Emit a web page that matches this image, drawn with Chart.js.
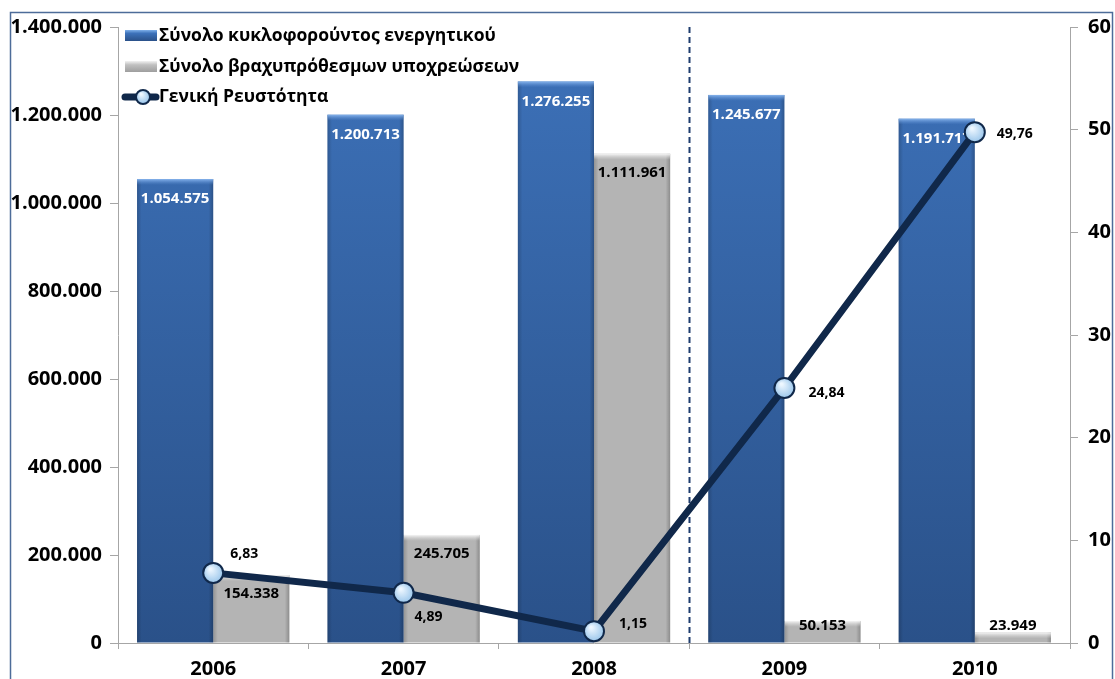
<!DOCTYPE html>
<html lang="el">
<head>
<meta charset="utf-8">
<title>Γενική Ρευστότητα 2006-2010</title>
<script src="https://cdn.jsdelivr.net/npm/chart.js@4.4.1/dist/chart.umd.min.js"></script>
<style>
  html, body { margin: 0; padding: 0; background: #fff; }
  #wrap { width: 1115px; height: 679px; position: relative; }
</style>
</head>
<body>
<div id="wrap"><canvas id="chart"></canvas></div>
<script>
// years and figures
const years = ['2006', '2007', '2008', '2009', '2010'];
const currentAssets = [1054575, 1200713, 1276255, 1245677, 1191717];
const shortTermLiabilities = [154338, 245705, 1111961, 50153, 23949];
const generalLiquidity = [6.83, 4.89, 1.15, 24.84, 49.76];

const seriesNames = [
  'Σύνολο κυκλοφορούντος ενεργητικού',
  'Σύνολο βραχυπρόθεσμων υποχρεώσεων',
  'Γενική Ρευστότητα'
];

// axis ranges
const amountMax = 1400000, amountStep = 200000;
const ratioMax = 60, ratioStep = 10;

const FONT = '"Open Sans", "DejaVu Sans", sans-serif';
const NAVY = '#10284a';

const fmtAmount = n => String(n).replace(/\B(?=(\d{3})+(?!\d))/g, '.');
const fmtRatio = n => n.toFixed(2).replace('.', ',');

function blueFill(ctx) {
  const area = ctx.chart.chartArea;
  if (!area) return '#3566aa';
  const g = ctx.chart.ctx.createLinearGradient(0, area.top, 0, area.bottom);
  g.addColorStop(0, '#3d72ba');
  g.addColorStop(1, '#2a5189');
  return g;
}

function markerFill(ctx) {
  const el = ctx.element;
  if (!el || el.x === undefined) return '#bcdcf5';
  const g = ctx.chart.ctx.createRadialGradient(el.x - 3, el.y - 4, 1, el.x, el.y, 11);
  g.addColorStop(0, '#eef7ff');
  g.addColorStop(1, '#95c3ea');
  return g;
}

// 3d-ish shading on the bars, then their value labels
const barDecor = {
  id: 'barDecor',
  afterDatasetDraw(chart, args) {
    const i = args.index;
    if (i > 1) return;
    const ctx = chart.ctx;
    const bottom = chart.chartArea.bottom;
    ctx.save();
    args.meta.data.forEach(bar => {
      const left = bar.x - bar.width / 2, top = bar.y, h = bar.base - bar.y;
      // darker side edges
      const side = ctx.createLinearGradient(left, 0, left + bar.width, 0);
      side.addColorStop(0, 'rgba(0,0,0,0.18)');
      side.addColorStop(0.06, 'rgba(0,0,0,0)');
      side.addColorStop(0.94, 'rgba(0,0,0,0)');
      side.addColorStop(1, 'rgba(0,0,0,0.22)');
      ctx.fillStyle = side;
      ctx.fillRect(left, top, bar.width, h);
      // light band on top
      const bandH = Math.min(6, h);
      const band = ctx.createLinearGradient(0, top, 0, top + bandH);
      band.addColorStop(0, i === 0 ? 'rgba(140,185,240,0.95)' : 'rgba(250,250,250,0.95)');
      band.addColorStop(1, i === 0 ? 'rgba(90,140,210,0)' : 'rgba(220,220,220,0)');
      ctx.fillStyle = band;
      ctx.fillRect(left, top, bar.width, bandH);
    });
    ctx.textAlign = 'center';
    ctx.textBaseline = 'middle';
    ctx.font = 'bold 15px ' + FONT;
    args.meta.data.forEach((bar, k) => {
      if (i === 0) {
        ctx.fillStyle = '#ffffff';
        ctx.fillText(fmtAmount(currentAssets[k]), bar.x, bar.y + 20);
      } else {
        ctx.fillStyle = '#000000';
        ctx.fillText(fmtAmount(shortTermLiabilities[k]), bar.x, Math.min(bar.y + 19, bottom - 17));
      }
    });
    ctx.restore();
  }
};

// where each liquidity label sits relative to its marker
const ratioLabelShift = [[31, -19], [25, 24], [39, -7], [42, 5], [40, 2]];

const overlay = {
  id: 'overlay',
  beforeDatasetsDraw(chart) {
    // dashed separator between 2008 and 2009
    const x = chart.scales.x;
    const sx = (x.getPixelForValue(2) + x.getPixelForValue(3)) / 2;
    const ctx = chart.ctx;
    ctx.save();
    ctx.strokeStyle = '#1f3d6e';
    ctx.lineWidth = 2;
    ctx.setLineDash([6, 4]);
    ctx.beginPath();
    ctx.moveTo(Math.round(sx) + 0.5, chart.chartArea.top);
    ctx.lineTo(Math.round(sx) + 0.5, chart.chartArea.bottom);
    ctx.stroke();
    ctx.restore();
  },
  afterDatasetsDraw(chart) {
    const ctx = chart.ctx;
    ctx.save();
    ctx.fillStyle = '#000';
    ctx.textAlign = 'center';
    ctx.textBaseline = 'middle';
    ctx.font = 'bold 14px ' + FONT;
    chart.getDatasetMeta(2).data.forEach((pt, k) => {
      const [dx, dy] = ratioLabelShift[k];
      ctx.fillText(fmtRatio(generalLiquidity[k]), pt.x + dx, pt.y + dy);
    });
    ctx.restore();
  },
  afterDraw(chart) {
    const ctx = chart.ctx;
    ctx.save();
    // legend in the upper left of the plot
    ctx.font = 'bold 17.5px ' + FONT;
    ctx.textBaseline = 'middle';
    ctx.textAlign = 'left';
    const lx = 125, ty = [36, 67, 97];
    let g = ctx.createLinearGradient(0, ty[0] - 6, 0, ty[0] + 5);
    g.addColorStop(0, '#7fb0ea'); g.addColorStop(0.3, '#3d72ba'); g.addColorStop(1, '#2a5189');
    ctx.fillStyle = g;
    ctx.fillRect(lx, ty[0] - 6, 32, 11);
    g = ctx.createLinearGradient(0, ty[1] - 6, 0, ty[1] + 5);
    g.addColorStop(0, '#f2f2f2'); g.addColorStop(0.35, '#c0c0c0'); g.addColorStop(1, '#9e9e9e');
    ctx.fillStyle = g;
    ctx.fillRect(lx, ty[1] - 6, 32, 11);
    ctx.strokeStyle = NAVY;
    ctx.lineWidth = 7;
    ctx.lineCap = 'round';
    ctx.beginPath();
    ctx.moveTo(lx, ty[2]); ctx.lineTo(lx + 31, ty[2]);
    ctx.stroke();
    g = ctx.createRadialGradient(lx + 16, ty[2] - 3, 1, lx + 18, ty[2], 7);
    g.addColorStop(0, '#eef7ff'); g.addColorStop(1, '#95c3ea');
    ctx.fillStyle = g;
    ctx.lineWidth = 2;
    ctx.beginPath();
    ctx.arc(lx + 18, ty[2], 7, 0, Math.PI * 2);
    ctx.fill(); ctx.stroke();
    ctx.fillStyle = '#000';
    seriesNames.forEach((name, k) => ctx.fillText(name, lx + 34, ty[k]));
    // frame around the chart
    ctx.strokeStyle = '#4d6c99';
    ctx.lineWidth = 1.5;
    ctx.strokeRect(10.5, 12.5, 1102, 700);
    ctx.restore();
  }
};

new Chart(document.getElementById('chart'), {
  data: {
    labels: years,
    datasets: [
      {
        type: 'bar',
        label: seriesNames[0],
        data: currentAssets,
        backgroundColor: blueFill,
        yAxisID: 'y',
        order: 2,
        categoryPercentage: 0.8,
        barPercentage: 1.0
      },
      {
        type: 'bar',
        label: seriesNames[1],
        data: shortTermLiabilities,
        backgroundColor: '#b4b4b4',
        yAxisID: 'y',
        order: 2,
        categoryPercentage: 0.8,
        barPercentage: 1.0
      },
      {
        type: 'line',
        label: seriesNames[2],
        data: generalLiquidity,
        yAxisID: 'y1',
        order: 0,
        borderColor: NAVY,
        borderWidth: 7,
        tension: 0,
        pointRadius: 10,
        pointBorderWidth: 2,
        pointBorderColor: NAVY,
        pointBackgroundColor: markerFill
      }
    ]
  },
  options: {
    responsive: true,
    maintainAspectRatio: false,
    animation: false,
    layout: { padding: { top: 27, left: 0, right: 0, bottom: 0 } },
    plugins: {
      legend: { display: false },
      tooltip: { enabled: false }
    },
    scales: {
      x: {
        offset: true,
        grid: { offset: true, drawOnChartArea: false, tickLength: 6, color: '#a6a6a6' },
        border: { color: '#a6a6a6' },
        ticks: { color: '#000', font: { family: FONT, size: 20, weight: 'bold' }, padding: 8 },
        afterFit: s => { s.height = 36; }
      },
      y: {
        position: 'left',
        min: 0, max: amountMax,
        ticks: { stepSize: amountStep, color: '#000', padding: 8,
                 font: { family: FONT, size: 20, weight: 'bold' },
                 callback: v => fmtAmount(v) },
        grid: { drawOnChartArea: false, tickLength: 8, color: '#a6a6a6' },
        border: { color: '#a6a6a6' },
        afterFit: s => { s.width = 118; }
      },
      y1: {
        position: 'right',
        min: 0, max: ratioMax,
        ticks: { stepSize: ratioStep, color: '#000', padding: 10,
                 font: { family: FONT, size: 20, weight: 'bold' } },
        grid: { drawOnChartArea: false, tickLength: 8, color: '#a6a6a6' },
        border: { color: '#a6a6a6' },
        afterFit: s => { s.width = 45; }
      }
    }
  },
  plugins: [barDecor, overlay]
});
</script>
</body>
</html>
